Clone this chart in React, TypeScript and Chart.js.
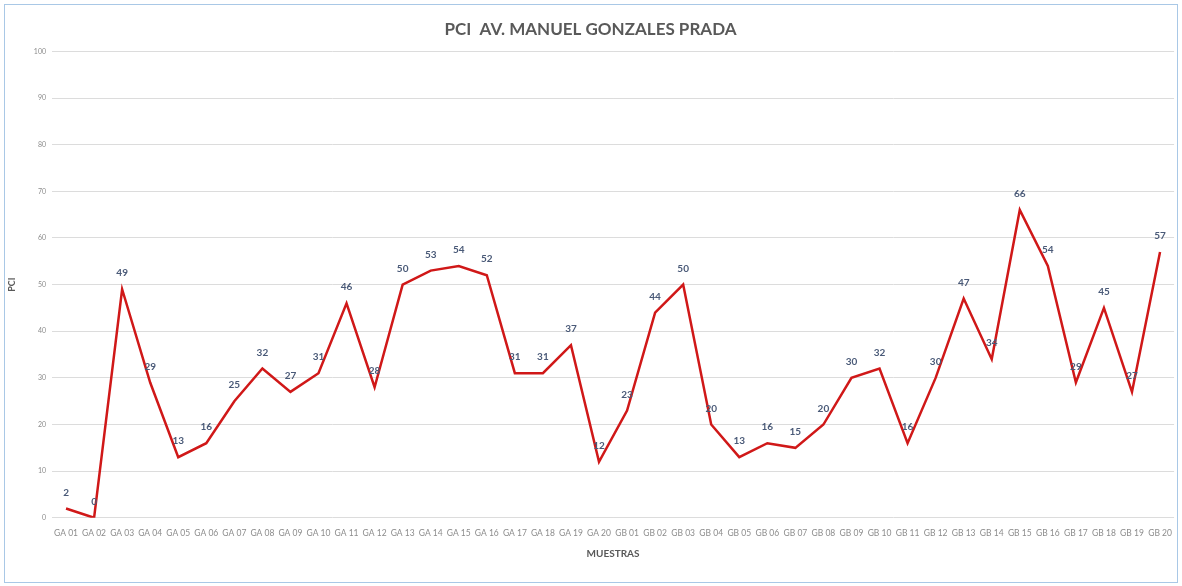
import React, { useEffect, useRef } from "react";
import { Chart, registerables } from "chart.js";

Chart.register(...registerables);

const titleText = "PCI  AV. MANUEL GONZALES PRADA";
const xTitle = "MUESTRAS";
const yTitle = "PCI";

const categories: string[] = [
  "GA 01", "GA 02", "GA 03", "GA 04", "GA 05", "GA 06", "GA 07", "GA 08", "GA 09", "GA 10",
  "GA 11", "GA 12", "GA 13", "GA 14", "GA 15", "GA 16", "GA 17", "GA 18", "GA 19", "GA 20",
  "GB 01", "GB 02", "GB 03", "GB 04", "GB 05", "GB 06", "GB 07", "GB 08", "GB 09", "GB 10",
  "GB 11", "GB 12", "GB 13", "GB 14", "GB 15", "GB 16", "GB 17", "GB 18", "GB 19", "GB 20",
];

const pciValues: number[] = [
  2, 0, 49, 29, 13, 16, 25, 32, 27, 31,
  46, 28, 50, 53, 54, 52, 31, 31, 37, 12,
  23, 44, 50, 20, 13, 16, 15, 20, 30, 32,
  16, 30, 47, 34, 66, 54, 29, 45, 27, 57,
];

const yMin = 0;
const yMax = 100;
const yStep = 10;

const FONT = "Lato, 'Open Sans', sans-serif";

const dataLabelPlugin = {
  id: "dataLabelsInline",
  afterDatasetsDraw(chart: any) {
    const ctx = chart.ctx;
    const meta = chart.getDatasetMeta(0);
    const data = chart.data.datasets[0].data as number[];
    ctx.save();
    ctx.font = `bold 10px ${FONT}`;
    ctx.fillStyle = "#4a5a78";
    ctx.textAlign = "center";
    ctx.textBaseline = "middle";
    meta.data.forEach((pt: any, i: number) => {
      ctx.fillText(String(data[i]), pt.x, pt.y - 16);
    });
    ctx.restore();
  },
};

export default function App() {
  const canvasRef = useRef<HTMLCanvasElement | null>(null);

  useEffect(() => {
    if (!canvasRef.current) return;
    const chart = new Chart(canvasRef.current, {
      type: "line",
      data: {
        labels: categories,
        datasets: [
          {
            label: "PCI",
            data: pciValues,
            borderColor: "#d01818",
            backgroundColor: "#d01818",
            borderWidth: 2.5,
            pointRadius: 0,
            tension: 0,
          },
        ],
      },
      options: {
        animation: false,
        responsive: false,
        maintainAspectRatio: false,
        layout: { padding: { left: 6, right: 7, top: 0, bottom: 22 } },
        plugins: {
          legend: { display: false },
          tooltip: { enabled: false },
          title: {
            display: true,
            text: titleText,
            color: "#595959",
            font: { family: FONT, size: 17, weight: "bold", lineHeight: 1.2 },
            padding: { top: 19, bottom: 12 },
          },
        },
        scales: {
          x: {
            offset: true,
            grid: { display: false, drawTicks: false },
            border: { display: false },
            ticks: {
              autoSkip: false,
              maxRotation: 0,
              minRotation: 0,
              padding: 10,
              color: "#8c8c8c",
              font: { family: FONT, size: 8.5, lineHeight: 1.2 },
            },
            title: {
              display: true,
              text: xTitle,
              color: "#595959",
              font: { family: FONT, size: 10, weight: "bold", lineHeight: 1.2 },
              padding: { top: 0, bottom: 4 },
            },
          },
          y: {
            min: yMin,
            max: yMax,
            grid: { color: "#dcdcdc", lineWidth: 1, drawTicks: false },
            border: { display: false },
            ticks: {
              stepSize: yStep,
              padding: 6,
              color: "#8c8c8c",
              font: { family: FONT, size: 7 },
            },
            title: {
              display: true,
              text: yTitle,
              color: "#595959",
              font: { family: FONT, size: 9, weight: "bold", lineHeight: 1.2 },
              padding: { top: 1, bottom: 0 },
            },
            afterFit(scale: any) {
              scale.width = 46;
            },
          },
        },
      },
      plugins: [dataLabelPlugin],
    } as any);
    return () => chart.destroy();
  }, []);

  return (
    <div style={{ position: "fixed", left: 0, top: 0, width: 1182, height: 586, background: "#ffffff" }}>
      <canvas ref={canvasRef} width={1182} height={586} style={{ display: "block", width: 1182, height: 586 }} />
      <div
        style={{
          position: "absolute",
          left: 4,
          top: 4,
          width: 1172,
          height: 577,
          border: "1px solid #a9c8e6",
          pointerEvents: "none",
        }}
      />
    </div>
  );
}
